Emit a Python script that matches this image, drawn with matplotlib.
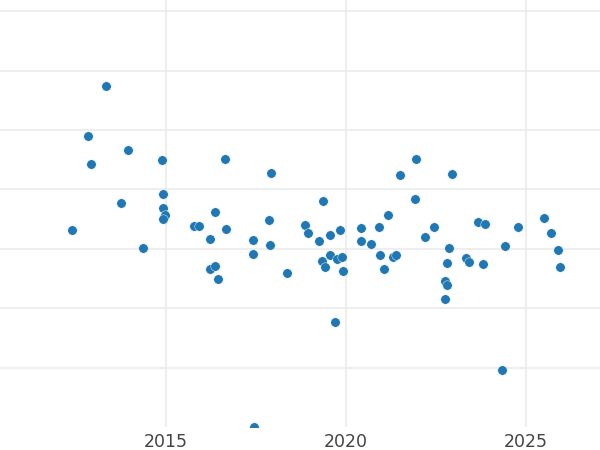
import matplotlib
matplotlib.use("Agg")
import matplotlib.pyplot as plt
import numpy as np

# year (decimal) and value in grid units
years = [
    2012.38, 2012.82, 2012.92, 2013.33, 2013.74, 2013.94, 2014.37, 2014.88,
    2014.91, 2014.92, 2014.98, 2014.91, 2015.79, 2015.92, 2016.21, 2016.36,
    2016.21, 2016.37, 2016.44, 2016.64, 2016.67, 2017.43, 2017.43, 2017.45,
    2017.85, 2017.88, 2017.92, 2018.37, 2018.85, 2018.95, 2019.24, 2019.36,
    2019.34, 2019.42, 2019.56, 2019.56, 2019.70, 2019.74, 2019.83, 2019.89,
    2019.91, 2020.42, 2020.42, 2020.71, 2020.93, 2020.94, 2021.07, 2021.18,
    2021.32, 2021.38, 2021.50, 2021.91, 2021.96, 2022.21, 2022.46, 2022.75,
    2022.82, 2022.75, 2022.81, 2022.87, 2022.96, 2023.34, 2023.41, 2023.66,
    2023.82, 2023.87, 2024.33, 2024.43, 2024.79, 2025.50, 2025.70, 2025.90,
    2025.95,
]
values = [
    3.31, 4.90, 4.43, 5.75, 3.78, 4.66, 3.01, 4.49,
    3.93, 3.69, 3.57, 3.51, 3.39, 3.38, 3.16, 3.62,
    2.66, 2.71, 2.49, 4.51, 3.34, 3.15, 2.92, 0.0,
    3.48, 3.06, 4.27, 2.59, 3.40, 3.27, 3.14, 3.80,
    2.79, 2.70, 3.23, 2.90, 1.76, 2.83, 3.32, 2.87,
    2.63, 3.35, 3.13, 3.08, 3.37, 2.90, 2.66, 3.57,
    2.87, 2.89, 4.25, 3.84, 4.52, 3.20, 3.36, 2.46,
    2.39, 2.15, 2.76, 3.01, 4.26, 2.85, 2.78, 3.45,
    2.74, 3.42, 0.96, 3.04, 3.36, 3.52, 3.27, 2.98,
    2.69,
]
x_ticks = [2015, 2020, 2025]
y_grid = [1, 2, 3, 4, 5, 6, 7]

fig = plt.figure(figsize=(6, 4.5), dpi=100)
ax = fig.add_axes([0, 23 / 450, 1, 427 / 450])

ax.scatter(years, values, s=46, color="#1f77b4", edgecolors="white",
           linewidths=0.3, zorder=3)

ax.set_xlim(2010.383, 2027.064)
ax.set_ylim(0, 7.19)
ax.set_xticks(x_ticks)
ax.set_xticklabels([str(t) for t in x_ticks])
ax.set_yticks(y_grid)
ax.set_yticklabels([])
ax.grid(True, color="#ebebeb", linewidth=1.2, zorder=0)
ax.set_axisbelow(True)
ax.tick_params(axis="both", length=0)
ax.tick_params(axis="x", labelsize=12.5, labelcolor="#444444", pad=4)
for s in ax.spines.values():
    s.set_visible(False)

fig.savefig("out.png", dpi=100)
